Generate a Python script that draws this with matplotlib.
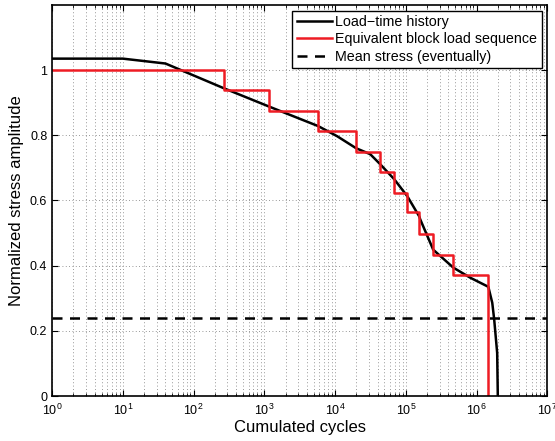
import numpy as np
import matplotlib.pyplot as plt
from matplotlib.ticker import FixedLocator, FixedFormatter, LogLocator

plt.rcParams['font.family'] = ['Liberation Sans', 'DejaVu Sans']

# Load-time history (cumulated cycles, normalized amplitude)
hist_cycles = [1, 10, 40, 262, 1135, 5780, 10700, 19900, 31400, 43500, 68700,
               105000, 155000, 160000, 244000, 469000, 815000, 1.47e6, 1.67e6,
               1.78e6, 1.96e6, 2.0e6]
hist_amp = [1.035, 1.035, 1.02, 0.945, 0.889, 0.828, 0.797, 0.76, 0.742, 0.711,
            0.665, 0.613, 0.551, 0.542, 0.449, 0.394, 0.363, 0.335, 0.286,
            0.234, 0.132, 0.0]

# Equivalent block load sequence: block end cycles and levels
block_end = [270, 1175, 5800, 19600, 43000, 68000, 104000, 155000, 245000,
             470000, 1.47e6]
block_amp = [1.0, 0.94, 0.875, 0.814, 0.75, 0.687, 0.624, 0.563, 0.498, 0.434, 0.37]

mean_stress = 0.24

yticks = [0, 0.2, 0.4, 0.6, 0.8, 1]
yticklabels = ['0', '0.2', '0.4', '0.6', '0.8', '1']

# build step coordinates
bx = [1]
by = [block_amp[0]]
for i, (e, a) in enumerate(zip(block_end, block_amp)):
    bx.append(e)
    by.append(a)
    if i + 1 < len(block_amp):
        bx.append(e)
        by.append(block_amp[i + 1])
bx.append(block_end[-1])
by.append(0)

fig = plt.figure(figsize=(5.55, 4.41), dpi=100)
ax = fig.add_axes([0.094, 0.102, 0.892, 0.887])

ax.plot(hist_cycles, hist_amp, color='black', lw=1.8, label='Load\u2212time history')
ax.plot(bx, by, color='#ee1c24', lw=1.8, label='Equivalent block load sequence')
ax.axhline(mean_stress, color='black', lw=1.8, ls=(0, (4, 3)),
           label='Mean stress (eventually)')

ax.set_xscale('log')
ax.set_xlim(1, 1e7)
ax.set_ylim(0, 1.2)
ax.xaxis.set_major_locator(LogLocator(base=10, numticks=10))
ax.xaxis.set_minor_locator(LogLocator(base=10, subs=np.arange(2, 10), numticks=100))
ax.yaxis.set_major_locator(FixedLocator(yticks))
ax.yaxis.set_major_formatter(FixedFormatter(yticklabels))

ax.grid(True, which='major', ls=(0, (1, 3)), color='#777777', lw=0.6)
ax.grid(True, which='minor', axis='x', ls=(0, (1, 3)), color='#777777', lw=0.6)
ax.tick_params(which='both', direction='in', top=True, right=True, labelsize=9)
ax.tick_params(which='major', length=4)
ax.tick_params(which='minor', length=2)
ax.tick_params(axis='x', pad=5)
for s in ax.spines.values():
    s.set_linewidth(1.2)

ax.set_xlabel('Cumulated cycles', fontsize=12, labelpad=1)
ax.set_ylabel('Normalized stress amplitude', fontsize=12)

leg = ax.legend(loc='upper right', fontsize=10.3, fancybox=False, framealpha=1,
                edgecolor='black', borderaxespad=0.4, handlelength=2.5,
                borderpad=0.3, labelspacing=0.25, handletextpad=0.2)
leg.get_frame().set_linewidth(1.0)

fig.savefig('out.png', dpi=100)
